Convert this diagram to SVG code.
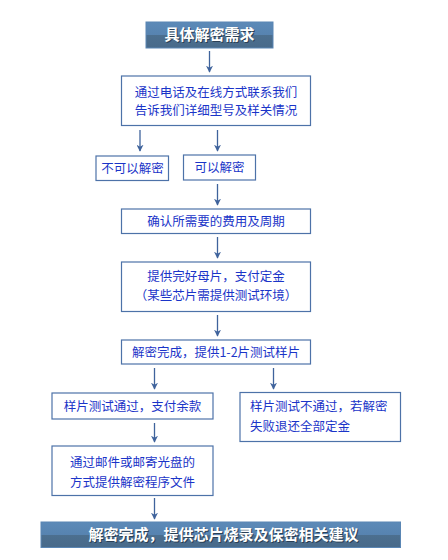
<svg xmlns="http://www.w3.org/2000/svg" width="448" height="560" viewBox="0 0 448 560">
<style>
.box{fill:#ffffff;stroke:#4d72a8;stroke-width:1.2}
.t{font-family:"Noto Sans CJK SC","Liberation Sans",sans-serif;font-size:12.5px;fill:#1a34c8;text-anchor:middle}
.ts{font-family:"Noto Sans CJK SC","Liberation Sans",sans-serif;font-size:12.5px;fill:#1a34c8;text-anchor:start}
.h{font-family:"Noto Sans CJK SC","Liberation Sans",sans-serif;font-size:15px;font-weight:bold;fill:#ffffff;text-anchor:middle}
.hs{font-family:"Noto Sans CJK SC","Liberation Sans",sans-serif;font-size:15px;font-weight:bold;fill:#2a3f55;text-anchor:middle}
.c{stroke:#3f639c;stroke-width:1.3;fill:none;marker-end:url(#ah)}
</style>
<defs>
<linearGradient id="g" x1="0" y1="0" x2="0" y2="1">
<stop offset="0" stop-color="#5c8ab8"/>
<stop offset="0.5" stop-color="#5783b0"/>
<stop offset="0.5" stop-color="#4c6f8f"/>
<stop offset="1" stop-color="#486a8a"/>
</linearGradient>
<marker id="ah" viewBox="0 0 10 10" refX="9" refY="5" markerWidth="7" markerHeight="7" markerUnits="userSpaceOnUse" orient="auto">
<path d="M0,0 L10,5 L0,10 L3,5 z" fill="#3f639c"/>
</marker>
</defs>
<rect width="448" height="560" fill="#ffffff"/>
<g id="connectors">
<line class="c" x1="209.5" y1="51" x2="209.5" y2="72"/>
<line class="c" x1="140" y1="130" x2="140" y2="151"/>
<line class="c" x1="217.5" y1="130" x2="217.5" y2="151"/>
<line class="c" x1="217.5" y1="184" x2="217.5" y2="205"/>
<line class="c" x1="217.5" y1="237" x2="217.5" y2="258"/>
<line class="c" x1="217.5" y1="315" x2="217.5" y2="336"/>
<line class="c" x1="154.5" y1="368" x2="154.5" y2="389"/>
<line class="c" x1="273.5" y1="368" x2="273.5" y2="389"/>
<line class="c" x1="154.5" y1="423" x2="154.5" y2="442"/>
<line class="c" x1="154.5" y1="498" x2="154.5" y2="519"/>
</g>
<g id="n1">
<rect x="146" y="22" width="127" height="26" fill="url(#g)" stroke="#5a86b4" stroke-width="1"/>
<text class="hs" x="210.5" y="41">具体解密需求</text>
<text class="h" x="209.5" y="40">具体解密需求</text>
</g>
<g id="n2">
<rect class="box" x="121.5" y="76" width="189" height="49.5"/>
<text class="t" x="216" y="96.5">通过电话及在线方式联系我们</text>
<text class="t" x="216" y="114.5">告诉我们详细型号及样关情况</text>
</g>
<g id="n3">
<rect class="box" x="96" y="156" width="72.5" height="24.5"/>
<text class="t" x="132.5" y="173">不可以解密</text>
</g>
<g id="n4">
<rect class="box" x="183.5" y="155" width="72" height="25"/>
<text class="t" x="219.5" y="172">可以解密</text>
</g>
<g id="n5">
<rect class="box" x="121.5" y="209" width="189" height="24.5"/>
<text class="t" x="216" y="226">确认所需要的费用及周期</text>
</g>
<g id="n6">
<rect class="box" x="121.5" y="262" width="189" height="49.5"/>
<text class="t" x="216" y="280.5">提供完好母片，支付定金</text>
<text class="t" x="216" y="300">（某些芯片需提供测试环境）</text>
</g>
<g id="n7">
<rect class="box" x="121.5" y="340" width="189" height="24"/>
<text class="t" x="216" y="356.5">解密完成，提供1-2片测试样片</text>
</g>
<g id="n8">
<rect class="box" x="52" y="393" width="161" height="26"/>
<text class="t" x="132.5" y="410.5">样片测试通过，支付余款</text>
</g>
<g id="n9">
<rect class="box" x="240" y="392.5" width="160.5" height="49"/>
<text class="ts" x="250" y="410.5">样片测试不通过，若解密</text>
<text class="ts" x="250" y="430.5">失败退还全部定金</text>
</g>
<g id="n10">
<rect class="box" x="52" y="446" width="161" height="49.5"/>
<text class="t" x="132.5" y="467">通过邮件或邮寄光盘的</text>
<text class="t" x="132.5" y="486.5">方式提供解密程序文件</text>
</g>
<g id="n11">
<rect x="41" y="522" width="359.5" height="25.5" fill="url(#g)" stroke="#5a86b4" stroke-width="1"/>
<text class="hs" x="224.5" y="541">解密完成，提供芯片烧录及保密相关建议</text>
<text class="h" x="223.5" y="540">解密完成，提供芯片烧录及保密相关建议</text>
</g>
</svg>
